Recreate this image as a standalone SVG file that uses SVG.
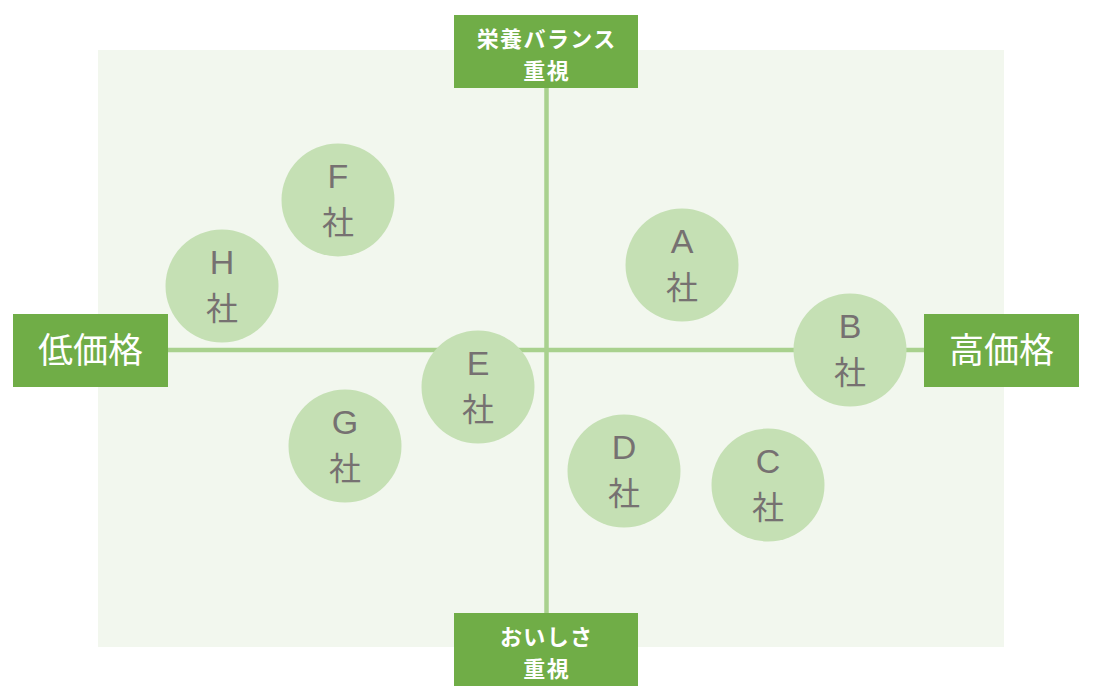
<svg xmlns="http://www.w3.org/2000/svg" width="1099" height="696" viewBox="0 0 1099 696">
<style>
.axis{stroke:#A9D18E;stroke-width:4.5;fill:none}
.box{fill:#70AD47}
.axt{fill:#FFFFFF;font-family:"Noto Sans CJK JP","Noto Sans",sans-serif;text-anchor:middle}
.big{font-size:35px}
.small{font-size:22px;font-weight:bold;letter-spacing:1.4px}
.co{fill:#C5E0B4}
.ct{fill:#767171;text-anchor:middle}
.l{font-family:"Liberation Sans","Noto Sans",sans-serif;font-size:34px}
.k{font-family:"Noto Sans CJK JP","Noto Sans",sans-serif;font-size:32px}
</style>
<rect x="98" y="50" width="906" height="597" fill="#F2F7EE"/>
<g id="connectors">
<line class="axis" x1="168" y1="350" x2="924" y2="350"/>
<line class="axis" x1="546.5" y1="88" x2="546.5" y2="613"/>
</g>
<g id="top">
<rect class="box" x="454" y="15" width="184" height="73"/>
<text class="axt small" x="546.7" y="47">栄養バランス</text>
<text class="axt small" x="546.7" y="79">重視</text>
</g>
<g id="bottom">
<rect class="box" x="454" y="613" width="184" height="73"/>
<text class="axt small" x="546.7" y="645">おいしさ</text>
<text class="axt small" x="546.7" y="677">重視</text>
</g>
<g id="left">
<rect class="box" x="13" y="314" width="155" height="73"/>
<text class="axt big" x="90.5" y="363">低価格</text>
</g>
<g id="right">
<rect class="box" x="924" y="314" width="155" height="73"/>
<text class="axt big" x="1001.5" y="363">高価格</text>
</g>
<g id="F"><circle class="co" cx="338" cy="200" r="56.5"/><text class="ct l" x="338" y="188">F</text><text class="ct k" x="338" y="234">社</text></g>
<g id="H"><circle class="co" cx="222" cy="286" r="56.5"/><text class="ct l" x="222" y="274">H</text><text class="ct k" x="222" y="320">社</text></g>
<g id="A"><circle class="co" cx="682" cy="265" r="56.5"/><text class="ct l" x="682" y="253">A</text><text class="ct k" x="682" y="299">社</text></g>
<g id="B"><circle class="co" cx="850" cy="350" r="56.5"/><text class="ct l" x="850" y="338">B</text><text class="ct k" x="850" y="384">社</text></g>
<g id="E"><circle class="co" cx="478" cy="387" r="56.5"/><text class="ct l" x="478" y="375">E</text><text class="ct k" x="478" y="421">社</text></g>
<g id="G"><circle class="co" cx="345" cy="446" r="56.5"/><text class="ct l" x="345" y="434">G</text><text class="ct k" x="345" y="480">社</text></g>
<g id="D"><circle class="co" cx="624" cy="471" r="56.5"/><text class="ct l" x="624" y="459">D</text><text class="ct k" x="624" y="505">社</text></g>
<g id="C"><circle class="co" cx="768" cy="485" r="56.5"/><text class="ct l" x="768" y="473">C</text><text class="ct k" x="768" y="519">社</text></g>
</svg>
